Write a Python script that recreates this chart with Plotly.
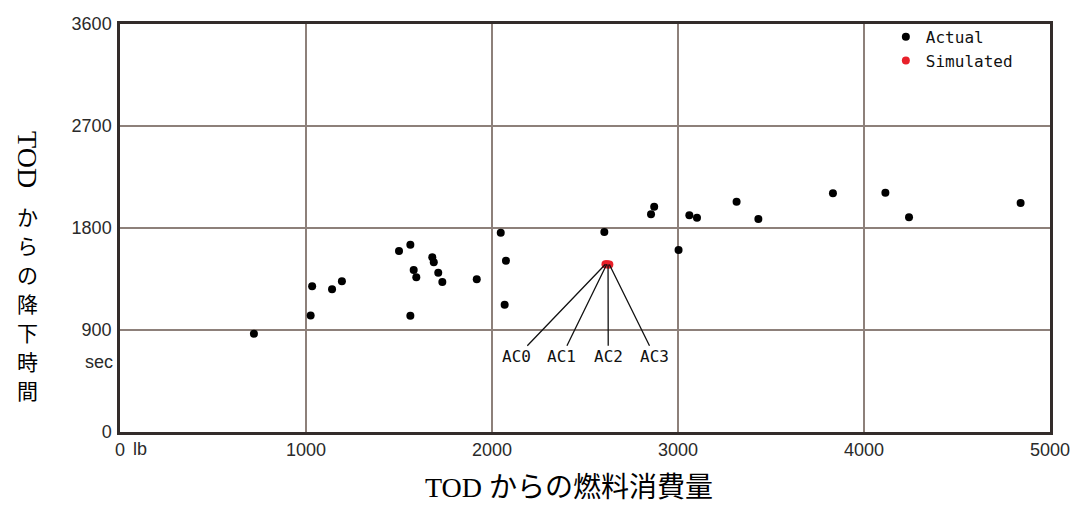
import plotly.graph_objects as go

# ---- data ----
actual_fuel = [720, 1025, 1033, 1140, 1193, 1500, 1561, 1579, 1593, 1561,
               1679, 1687, 1711, 1733, 1918, 2047, 2075, 2068, 2604, 2855,
               2872, 3003, 3061, 3102, 3315, 3432, 3833, 4115, 4242, 4842]
actual_time = [868, 1028, 1285, 1260, 1331, 1597, 1653, 1429, 1365, 1026,
               1541, 1497, 1406, 1324, 1347, 1759, 1512, 1123, 1765, 1921,
               1988, 1606, 1912, 1891, 2032, 1879, 2106, 2112, 1894, 2021]

sim_labels = ["AC0", "AC1", "AC2", "AC3"]
sim_fuel = [2610, 2617, 2624, 2631]
sim_time = [1480, 1480, 1478, 1478]
label_fuel = [2133, 2374, 2625, 2876]
label_time = [664, 664, 664, 664]

x_ticks = [0, 1000, 2000, 3000, 4000, 5000]
x_ticktext = ["0", "1000", "2000", "3000", "4000", "5000"]
y_ticks = [0, 900, 1800, 2700, 3600]
y_ticktext = ["0", "900", "1800", "2700", "3600"]

y_title_chars = ["か", "ら", "の", "降", "下", "時", "間"]

tick_font = dict(family="Liberation Sans, Arial", size=18, color="#2a2a2a")
mono_font = dict(family="DejaVu Sans Mono, monospace", size=16, color="#111111")
grid_color = "#8d807a"
frame_color = "#332c2a"

PLOT_H = 408

fig = go.Figure()
fig.add_trace(go.Scatter(x=actual_fuel, y=actual_time, mode="markers", name="Actual",
                         marker=dict(color="black", size=8)))
fig.add_trace(go.Scatter(x=sim_fuel, y=sim_time, mode="markers", name="Simulated",
                         marker=dict(color="#e8202a", size=8)))

annotations = []
for lab, fx, fy, lx, ly in zip(sim_labels, sim_fuel, sim_time, label_fuel, label_time):
    annotations.append(dict(x=fx, y=fy, xref="x", yref="y", ax=lx, ay=ly, axref="x", ayref="y",
                            text=lab, showarrow=True, arrowhead=0, arrowwidth=1.3,
                            arrowcolor="#111111", standoff=0, font=mono_font))

annotations += [
    dict(x=0, y=620, xref="paper", yref="y", text="sec", showarrow=False,
         xanchor="right", xshift=-5, font=tick_font),
    dict(x=0, y=0, xref="x", yref="paper", text="lb", showarrow=False,
         xanchor="center", yanchor="top", xshift=20, yshift=-5, font=tick_font),
    dict(x=0.483, y=-0.135, xref="paper", yref="paper",
         text="TOD からの燃料消費量", showarrow=False, xanchor="center", yanchor="middle",
         font=dict(family="Liberation Serif, Noto Sans CJK JP", size=28, color="black")),
    dict(x=-0.099, y=(432 - 160) / PLOT_H, xref="paper", yref="paper", text="TOD", textangle=90,
         showarrow=False, xanchor="center", yanchor="middle",
         font=dict(family="Liberation Serif", size=28, color="black")),
]
for i, ch in enumerate(y_title_chars):
    py = 216 + i * 29
    annotations.append(dict(x=-0.099, y=(432 - py) / PLOT_H, xref="paper", yref="paper",
                            text=ch, showarrow=False, xanchor="center", yanchor="middle",
                            font=dict(family="Noto Sans CJK JP", size=21, color="black")))

fig.update_layout(
    width=1072, height=513,
    margin=dict(l=120, r=22, t=24, b=81),
    paper_bgcolor="white", plot_bgcolor="white",
    showlegend=True,
    legend=dict(x=0.8235, y=1.01, xanchor="left", yanchor="top", bgcolor="rgba(0,0,0,0)",
                font=mono_font, itemwidth=30, tracegroupgap=0),
    annotations=annotations,
    hovermode=False,
)
fig.update_xaxes(range=[0, 5000], tickvals=x_ticks, ticktext=x_ticktext, tickfont=tick_font,
                 showgrid=True, gridcolor=grid_color, gridwidth=1.5, zeroline=False,
                 showline=True, linecolor=frame_color, linewidth=2.5, mirror=True, ticks="",
                 automargin=False)
fig.update_yaxes(range=[0, 3600], tickvals=y_ticks, ticktext=y_ticktext, tickfont=tick_font,
                 showgrid=True, gridcolor=grid_color, gridwidth=1.5, zeroline=False,
                 showline=True, linecolor=frame_color, linewidth=2.5, mirror=True, ticks="",
                 ticklabelstandoff=2, automargin=False)

fig.write_html("out.html", config={"displayModeBar": False},
               post_script="document.body.style.margin='0px';document.body.style.overflow='hidden';")
